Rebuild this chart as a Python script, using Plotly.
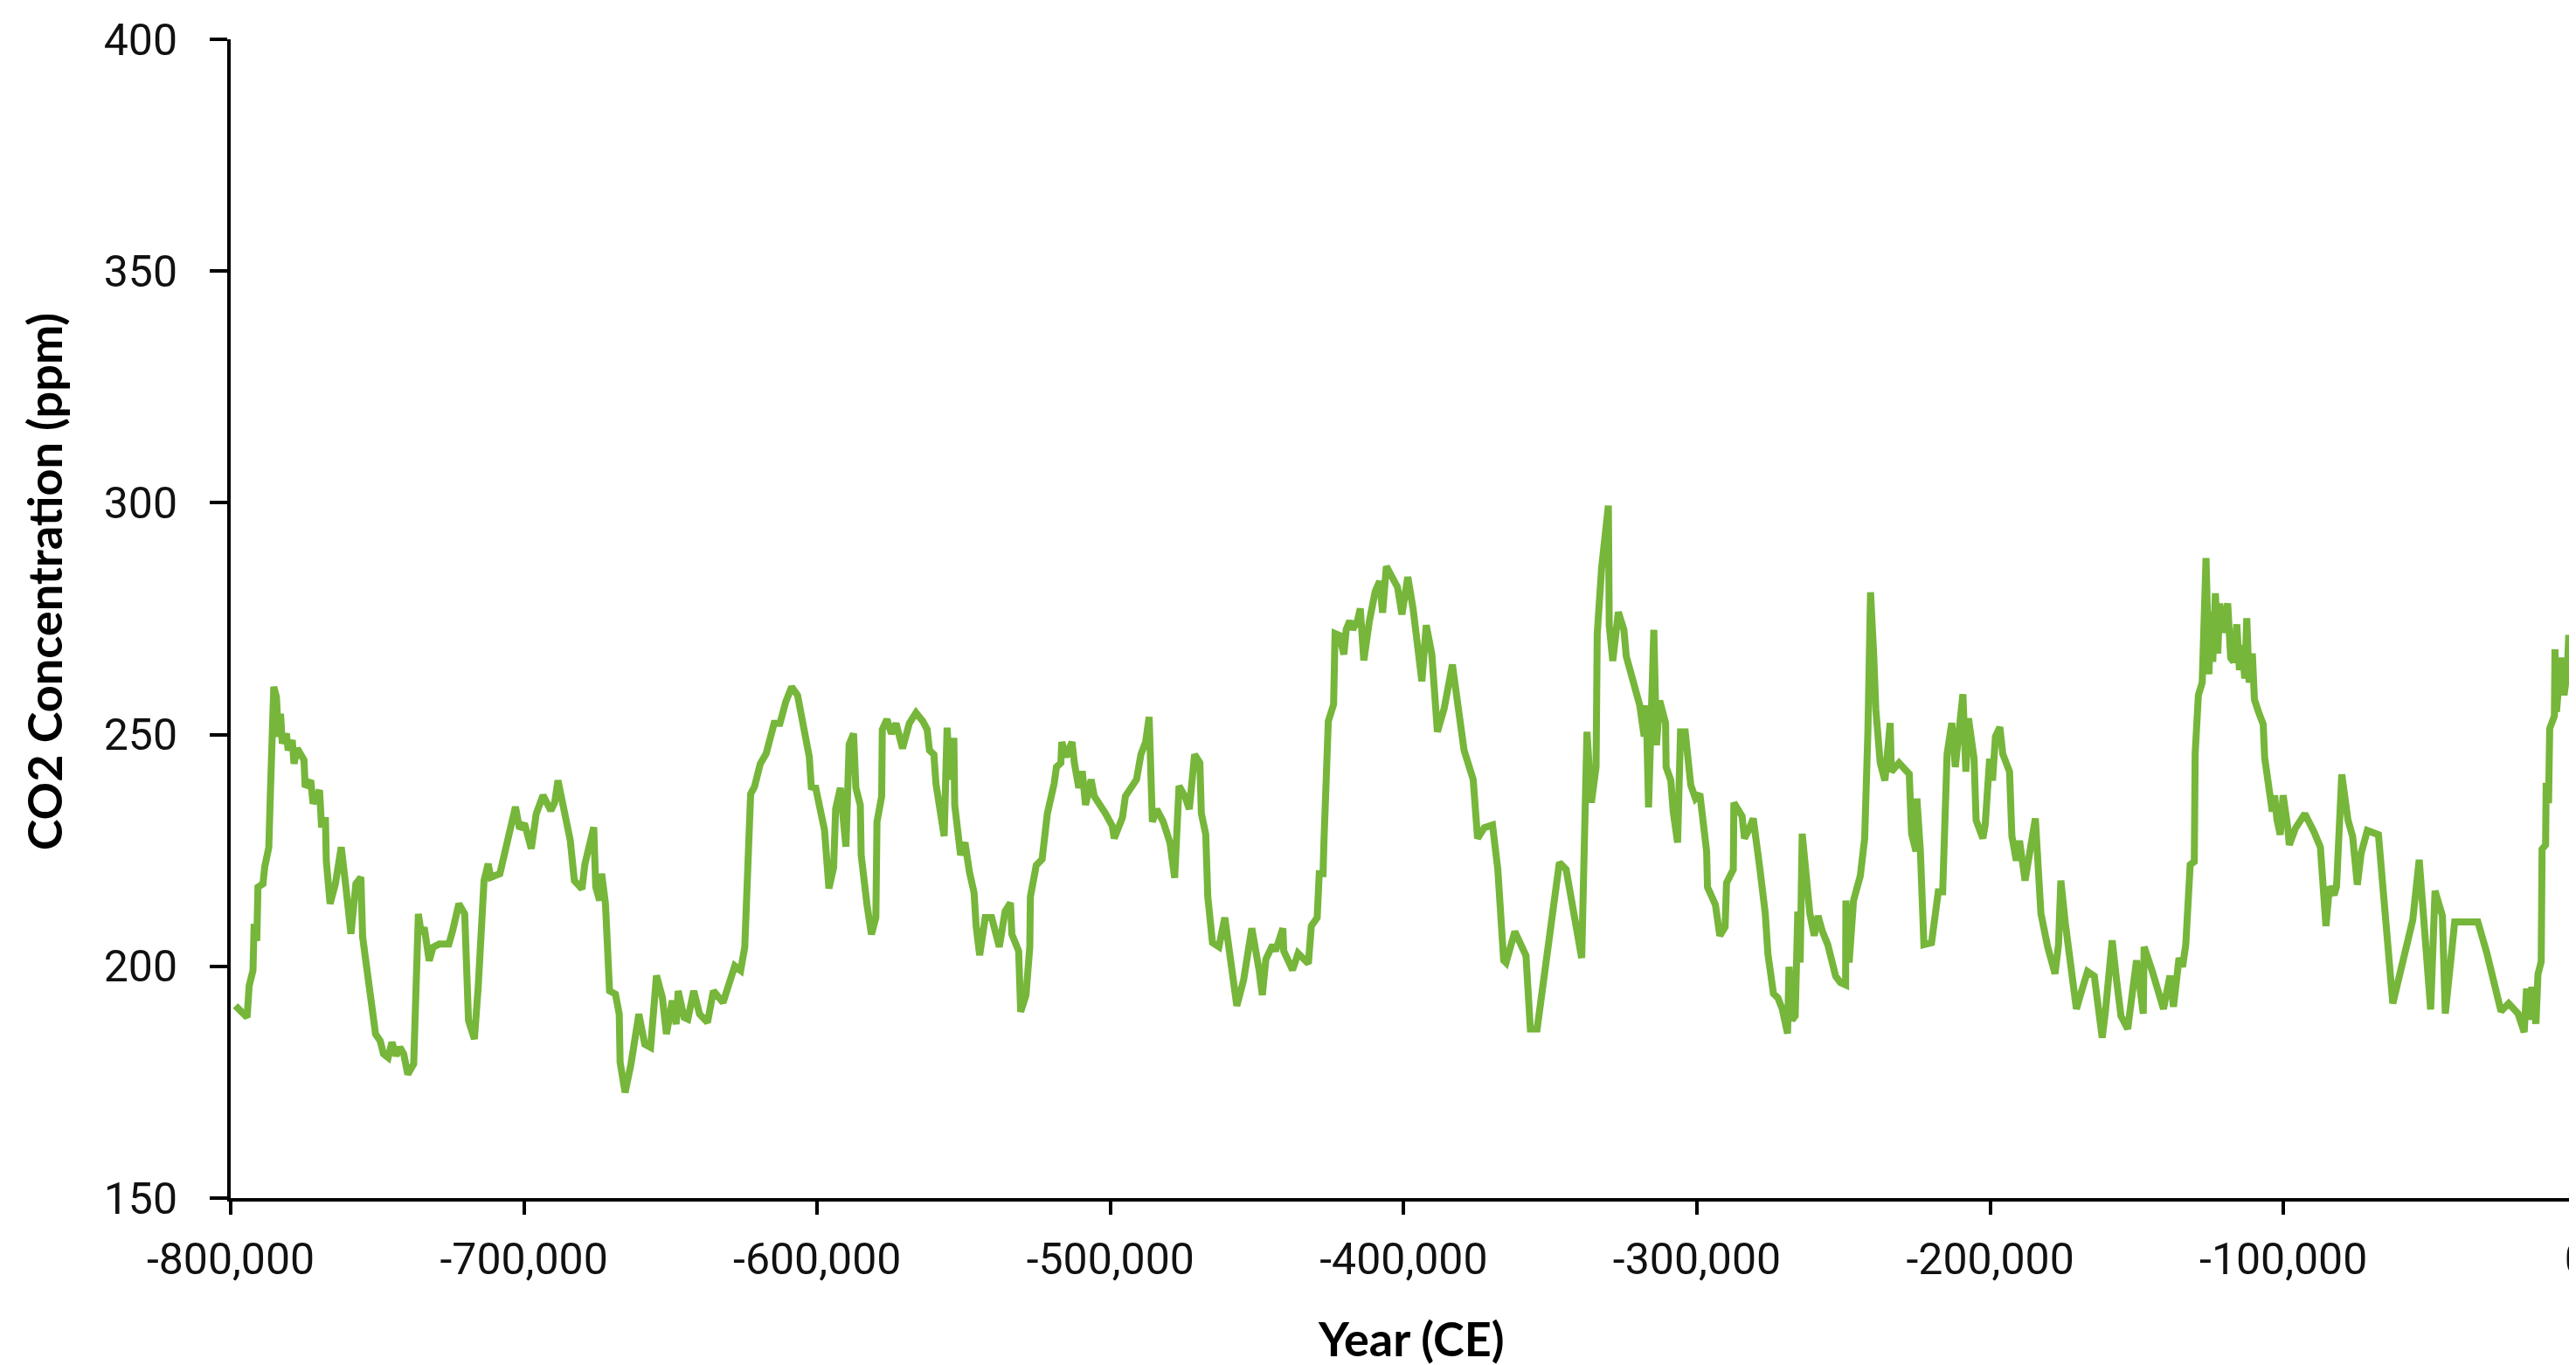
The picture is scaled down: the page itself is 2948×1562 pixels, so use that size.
import plotly.graph_objects as go

# Age in thousands of years (negative = before present) and CO2 concentration (ppm)
years_ka = [
    -798.4, -794.4, -793.7, -792.4, -792.0, -791.1, -790.7, -789.0, -788.4, -787.0,
    -786.4, -785.3, -784.4, -783.7, -783.0, -782.4, -781.0, -780.4, -779.0, -778.4,
    -777.3, -775.0, -774.6, -772.7, -771.9, -769.7, -769.0, -767.7, -767.4, -766.1,
    -764.3, -762.3, -760.7, -759.0, -757.3, -755.6, -755.0, -753.0, -751.6, -750.6,
    -749.0, -747.9, -746.3, -745.0, -743.6, -742.3, -741.0, -739.6, -737.6, -736.9,
    -736.0, -735.0, -734.0, -732.3, -731.0, -728.9, -725.6, -724.3, -722.2, -720.2,
    -718.9, -716.9, -715.6, -713.6, -712.2, -711.3, -708.2, -702.9, -701.5, -699.8,
    -697.5, -695.8, -693.5, -690.8, -689.5, -688.4, -686.8, -686.2, -684.2, -682.8,
    -680.2, -679.2, -676.2, -675.5, -674.2, -673.5, -672.2, -670.8, -668.8, -667.5,
    -667.2, -665.5, -663.5, -660.8, -658.8, -656.8, -656.1, -654.8, -652.8, -651.4,
    -649.4, -648.1, -647.4, -645.4, -644.1, -642.1, -640.1, -637.4, -635.4, -632.1,
    -628.1, -626.1, -624.7, -622.7, -621.4, -619.4, -617.4, -614.7, -612.7, -610.7,
    -608.7, -606.7, -602.7, -602.0, -600.5,
    -597.5, -596.0, -594.4, -593.7, -592.1, -590.2, -589.1, -587.6, -586.8, -585.3,
    -585.0, -583.0, -581.5, -580.0, -579.6, -578.0, -577.8, -576.2, -574.7, -573.1,
    -570.9, -568.6, -566.3, -564.0, -562.5, -561.7, -560.2, -559.5, -557.9, -556.7,
    -555.7, -554.6, -553.4, -553.1, -551.1, -549.6, -548.1, -546.5, -545.8, -544.6,
    -542.7, -540.5, -537.9, -535.9, -534.1, -533.6, -531.3, -530.6, -528.8, -527.5,
    -527.3, -525.3, -523.3, -522.2, -521.5, -519.2, -518.4, -516.9, -516.6, -515.1,
    -513.1, -512.3, -510.8, -509.6, -508.5, -506.6, -505.5, -501.7, -499.4, -498.7,
    -495.9, -494.9, -491.1, -489.6, -488.0, -486.8, -485.7, -484.2, -482.0, -479.7,
    -478.1, -476.6, -474.6, -473.1, -471.3, -469.5, -469.0, -467.5, -466.8, -465.2,
    -463.0, -461.0, -459.5, -456.9, -454.6, -451.8, -449.3, -448.2, -447.0, -444.7,
    -443.7, -441.2, -440.9, -437.9, -436.0, -432.5, -431.5, -429.5, -428.8, -427.5,
    -427.2, -425.7, -423.9, -423.4, -421.9, -420.4, -419.6, -418.4, -417.4, -415.8,
    -414.8, -413.6, -411.7, -409.7, -408.2, -407.2, -405.9, -403.7, -402.1, -400.6,
    -398.6, -396.8, -395.3, -393.8, -392.3, -390.4, -388.5, -386.2, -383.4, -381.6,
    -379.4, -376.3, -374.8, -372.5, -369.7,
    -367.9, -365.9, -365.1, -362.1, -358.3, -356.8, -354.5, -346.9, -344.6, -339.3,
    -337.5, -336.0, -334.4, -334.0, -332.5, -330.2, -329.9, -328.7, -326.8, -324.9,
    -324.1, -321.1, -319.5, -318.0, -317.3, -316.5, -314.7, -313.8, -312.7, -310.7,
    -310.5, -308.9, -308.1, -306.6, -305.6, -304.0, -302.1, -300.5, -299.0, -296.7,
    -296.4, -293.7, -292.2, -290.4, -289.9, -287.6, -287.4, -284.6, -283.8, -282.3,
    -280.8, -278.5, -276.7, -275.8, -273.9, -272.4, -270.9, -269.1, -268.6, -267.6,
    -266.5, -265.6, -264.8, -264.1, -262.5, -261.5, -260.0, -258.7, -257.2, -255.4,
    -252.7, -251.1, -249.3, -249.2, -248.1, -246.6, -244.3, -242.8, -241.7, -240.8,
    -239.7, -239.0, -237.5, -235.9, -234.1, -233.7, -231.1, -227.6, -226.8, -225.3,
    -225.0, -223.8, -222.6, -220.0, -217.7, -216.2, -214.7, -213.1, -211.9, -210.8,
    -209.3, -208.3, -207.4, -205.5, -204.8, -202.5, -201.7, -200.2, -199.2, -198.2,
    -196.7, -195.7, -193.4, -192.6, -191.1, -190.0, -188.1, -184.6, -182.7, -180.4,
    -177.9, -176.7, -175.9, -174.4, -172.1, -170.6, -169.1, -166.8, -164.5, -163.3,
    -161.8, -160.7, -158.4, -156.9, -155.4, -153.1, -152.4, -150.1, -147.8, -147.5,
    -144.7, -140.9, -138.7, -137.5, -135.6, -134.4, -133.3, -131.8,
    -130.4, -130.1, -129.0, -127.7, -126.4, -125.9, -125.4, -124.8, -124.1, -123.2,
    -122.4, -121.7, -120.9, -120.3, -119.0, -118.0, -117.0, -115.9, -115.0, -114.0,
    -113.2, -112.5, -111.7, -110.6, -109.9, -108.5, -106.9, -106.4, -105.3, -103.8,
    -103.0, -102.2, -101.1, -100.1, -98.5, -98.0, -95.9, -92.7, -89.5, -87.4,
    -85.5, -84.3, -82.7, -81.9, -80.1, -78.0, -76.4, -74.8, -73.5, -71.4,
    -67.6, -62.7, -55.9, -53.7, -49.8, -48.3, -45.8, -44.8, -41.6, -33.7,
    -30.6, -25.8, -23.2, -20.0, -17.9, -17.1, -16.0, -15.3, -13.9, -13.2,
    -12.1, -11.8, -10.6, -10.4, -9.6, -9.2, -7.6, -7.4, -6.9, -5.3,
    -4.3, -3.2, -2.7, -1.6, -1.1, 0.0,
]

co2_ppm = [
    191.5, 189.0, 195.8, 199.1, 209.2, 205.5, 217.1, 217.8, 221.4, 225.7,
    238.7, 260.3, 258.1, 249.5, 254.5, 248.1, 250.2, 246.6, 248.8, 243.7,
    247.0, 244.5, 238.7, 240.1, 235.1, 238.0, 230.0, 232.2, 222.8, 213.5,
    217.8, 225.7, 217.1, 207.0, 217.8, 219.2, 206.3, 196.9, 191.1, 185.4,
    183.9, 181.1, 180.3, 183.6, 180.7, 182.5, 181.1, 176.7, 178.9, 200.5,
    211.3, 207.0, 208.4, 201.2, 204.1, 204.8, 204.8, 207.7, 213.5, 211.3,
    188.3, 184.3, 195.5, 218.5, 222.1, 219.2, 220.0, 234.4, 229.7, 230.8,
    225.4, 232.9, 236.9, 233.6, 235.4, 240.1, 235.1, 232.2, 227.2, 218.5,
    216.7, 222.1, 230.0, 217.1, 214.2, 220.0, 213.5, 194.7, 194.0, 189.7,
    179.3, 172.8, 178.9, 189.7, 183.2, 182.5, 189.0, 198.0, 193.3, 185.4,
    192.6, 187.5, 194.7, 189.0, 188.6, 194.7, 189.7, 187.9, 194.7, 192.2,
    200.1, 199.1, 204.1, 237.2, 238.7, 243.7, 245.9, 252.4, 252.4, 257.1,
    260.3, 258.5, 245.2, 238.7, 238.5,
    229.4, 216.8, 221.3, 234.0, 238.5, 225.8, 247.9, 250.2, 238.5, 234.8,
    224.0, 213.2, 206.9, 210.5, 231.2, 236.7, 251.1, 253.3, 250.2, 252.4,
    247.0, 252.4, 254.7, 252.9, 251.1, 246.6, 245.7, 239.4, 231.2, 228.1,
    251.5, 240.3, 249.3, 234.8, 224.0, 226.7, 220.4, 215.9, 208.7, 202.4,
    210.5, 210.5, 204.2, 211.9, 213.7, 206.9, 203.3, 190.2, 193.8, 204.2,
    215.0, 221.8, 223.1, 228.5, 233.0, 239.4, 243.0, 243.9, 248.4, 245.2,
    248.4, 243.9, 238.5, 242.1, 234.8, 240.3, 236.7, 233.0, 230.3, 227.6,
    232.1, 236.7, 240.3, 245.7, 248.4, 253.8, 231.2, 233.9, 231.2, 226.7,
    219.1, 238.9, 236.7, 233.9, 245.7, 243.9, 233.0, 228.5, 215.0, 205.1,
    204.2, 210.5, 204.2, 191.5, 197.0, 208.2, 199.2, 193.8, 201.5, 204.6,
    203.3, 208.2, 203.3, 199.2, 202.8, 200.6, 208.7, 210.5, 220.0, 220.0,
    226.7, 252.9, 256.5, 271.8, 271.4, 267.3, 272.7, 274.5, 272.7, 274.5,
    277.2, 266.0, 274.5, 280.9, 283.1, 276.3, 286.3, 283.6, 281.8, 275.9,
    284.0, 277.2, 270.0, 261.5, 273.6, 267.3, 250.6, 255.6, 265.1, 256.5,
    246.6, 240.3, 227.6, 229.9, 230.5,
    220.9, 201.3, 200.8, 207.5, 202.3, 186.5, 186.5, 222.4, 220.9, 201.8,
    250.6, 235.3, 243.0, 271.7, 286.0, 299.4, 273.6, 265.9, 276.4, 272.6,
    266.9, 259.2, 256.3, 249.6, 256.3, 234.3, 272.6, 247.7, 257.3, 252.5,
    243.0, 240.1, 233.4, 226.7, 250.6, 250.6, 239.1, 236.2, 237.2, 224.8,
    217.1, 213.3, 206.6, 208.5, 218.0, 220.9, 235.3, 232.4, 227.6, 229.5,
    231.9, 220.9, 211.4, 202.7, 194.1, 193.2, 190.8, 185.5, 199.9, 188.4,
    189.3, 211.8, 200.8, 228.6, 215.2, 211.4, 206.6, 210.9, 207.5, 204.7,
    197.9, 196.5, 196.0, 214.2, 200.8, 214.2, 219.5, 227.6, 250.6, 280.7,
    266.9, 255.4, 243.9, 240.1, 252.5, 242.0, 243.9, 241.5, 228.6, 224.8,
    236.2, 224.8, 204.7, 205.1, 216.1, 216.1, 245.8, 252.5, 243.0, 251.6,
    258.7, 242.0, 253.5, 244.8, 231.5, 227.6, 230.5, 244.8, 240.1, 249.6,
    251.6, 245.8, 242.0, 228.1, 222.8, 227.1, 218.5, 231.9, 211.4, 204.2,
    198.4, 204.7, 218.5, 209.4, 198.9, 190.8, 194.1, 198.9, 197.9, 192.2,
    184.6, 190.3, 205.6, 197.0, 189.3, 186.5, 190.3, 201.3, 189.8, 204.2,
    198.9, 190.8, 198.0, 191.3, 201.8, 199.9, 204.7, 221.9,
    222.6, 245.9, 258.5, 261.2, 288.1, 263.9, 263.0, 276.5, 265.7, 280.5,
    267.5, 278.3, 272.0, 273.8, 278.3, 266.6, 265.7, 273.8, 263.9, 269.3,
    262.1, 275.1, 261.2, 267.5, 257.6, 254.9, 252.2, 245.0, 238.7, 233.4,
    236.9, 231.6, 228.4, 236.9, 229.8, 226.2, 229.8, 232.9, 228.9, 225.7,
    208.7, 217.2, 215.4, 217.2, 241.4, 231.6, 228.0, 217.6, 224.4, 229.3,
    228.4, 192.0, 210.0, 223.0, 190.7, 216.3, 210.9, 189.8, 209.6, 209.6,
    202.8, 190.3, 192.0, 189.8, 185.8, 195.2, 188.5, 195.6, 187.6, 198.3,
    201.0, 225.3, 226.2, 239.6, 235.2, 251.3, 254.0, 268.4, 254.9, 266.6,
    258.5, 263.9, 271.5, 262.1, 276.5, 278.0,
]

x_tick_values = [-800000, -700000, -600000, -500000, -400000, -300000, -200000, -100000, 0]
x_tick_labels = ["-800,000", "-700,000", "-600,000", "-500,000", "-400,000",
                 "-300,000", "-200,000", "-100,000", "0"]
y_tick_values = [150, 200, 250, 300, 350, 400]

x_title = "Year (CE)"
y_title = "CO2 Concentration (ppm)"

years = [k * 1000 for k in years_ka]

tick_font = dict(family="Roboto, DejaVu Sans Condensed, sans-serif", size=50, color="#111111")
title_font = dict(family="Lato, Open Sans, sans-serif", size=54, color="#000000")

fig = go.Figure()
fig.add_trace(go.Scatter(
    x=years, y=co2_ppm, mode="lines",
    line=dict(color="#76B63A", width=8),
    showlegend=False,
))

fig.update_layout(
    width=2948, height=1562,
    margin=dict(l=256, r=0, t=37, b=199),
    paper_bgcolor="white", plot_bgcolor="white",
    showlegend=False,
)

fig.update_xaxes(
    range=[-800000, 2150],
    tickvals=x_tick_values, ticktext=x_tick_labels,
    showgrid=False, zeroline=False,
    showline=True, linecolor="black", linewidth=4,
    ticks="outside", ticklen=15, tickwidth=4, tickcolor="black",
    tickfont=tick_font, ticklabelstandoff=8, ticklabeloverflow="allow",
    automargin=False,
)
fig.update_yaxes(
    range=[150, 400],
    tickvals=y_tick_values,
    showgrid=False, zeroline=False,
    showline=True, linecolor="black", linewidth=4,
    ticks="outside", ticklen=20, tickwidth=4, tickcolor="black",
    tickfont=tick_font, ticklabelstandoff=27,
    automargin=False,
)

fig.add_annotation(
    text="<b>" + x_title + "</b>", font=title_font, showarrow=False,
    xref="paper", yref="paper", x=0.502, y=-0.121,
    xanchor="center", yanchor="middle",
)
fig.add_annotation(
    text="<b>" + y_title + "</b>", font=title_font, showarrow=False,
    textangle=-90,
    xref="paper", yref="paper", x=-0.079, y=0.5317,
    xanchor="center", yanchor="middle",
)

fig.write_html("out.html")
